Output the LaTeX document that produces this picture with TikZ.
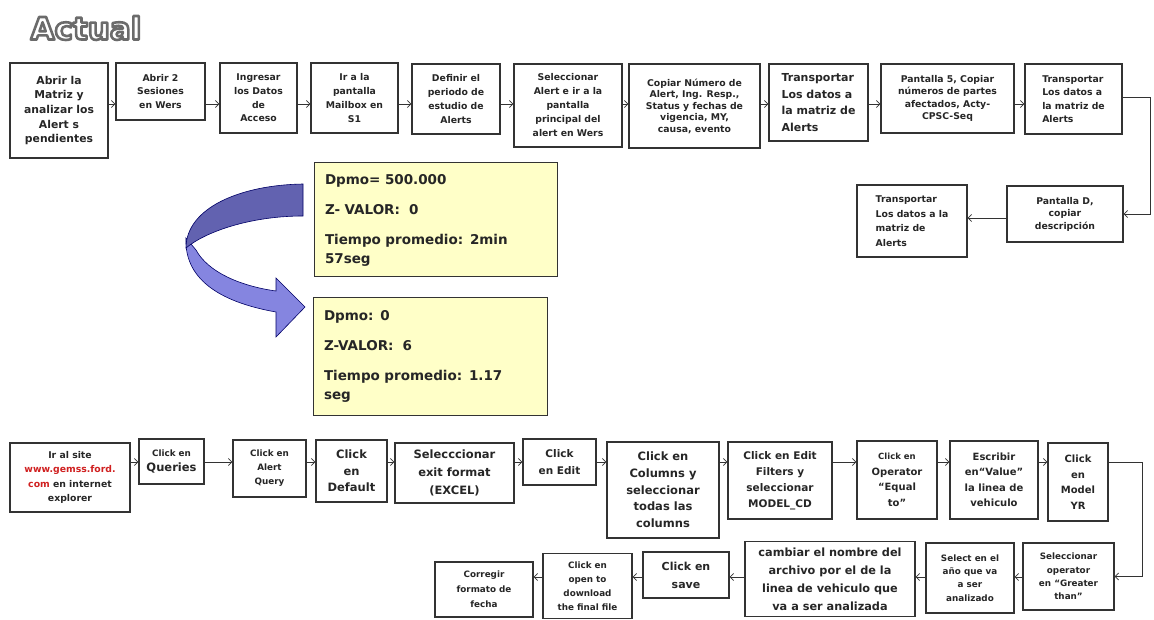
\documentclass[tikz,border=0pt]{standalone}
\usepackage{fontspec}
\setmainfont{DejaVu Sans}
\usetikzlibrary{arrows.meta}
\definecolor{ybg}{HTML}{FFFFC8}
\definecolor{bd}{HTML}{333333}
\definecolor{dk}{HTML}{6262B0}
\definecolor{lt}{HTML}{8585E0}
\definecolor{urlred}{HTML}{D02020}
\begin{document}
\begin{tikzpicture}[x=1pt,y=-1pt,
  box/.style={draw=bd, line width=1.1pt, fill=white, align=center, inner sep=1pt, text=black!85},
  fnt/.style 2 args={font=\bfseries\fontsize{#1}{#2}\selectfont},
  bfnt/.style 2 args={font=\bfseries\fontsize{#1}{#2}\selectfont},
  wh/.style 2 args={minimum width=#1, minimum height=#2},
  arr/.style={draw=bd, line width=0.8pt, -{Straight Barb[length=3.5pt,width=7pt]}},
  ybox/.style={draw=bd, line width=1pt, fill=ybg, align=left, inner xsep=11pt, text=black!85, font=\bfseries\fontsize{13.5}{19}\selectfont},
  ttl/.style={font=\bfseries\fontsize{31}{31}\selectfont}
]
\useasboundingbox (0,0) rectangle (1154,620);

% title (outlined text)
\node[ttl, text=white] (title) at (86,28) {\special{pdf:literal direct 0.42 G 2.6 w 1 j 2 Tr}Actual\special{pdf:literal direct 0 Tr}};

% top row
\node[box,wh={98}{95},bfnt={10.8}{14.6}] (b1) at (59,110.5) {Abrir la\\Matriz y\\analizar los\\Alert s\\pendientes};
\node[box,wh={89}{57},fnt={9.3}{13.8}] (b2) at (160.5,91.5) {Abrir 2\\Sesiones\\en Wers};
\node[box,wh={77}{70},fnt={9.3}{13.7}] (b3) at (258.5,98) {Ingresar\\los Datos\\de\\Acceso};
\node[box,wh={87}{70},fnt={9.3}{13.7}] (b4) at (354.5,98) {Ir a la\\pantalla\\Mailbox en\\S1};
\node[box,wh={88}{70},fnt={9.3}{13.7}] (b5) at (456,99) {Definir el\\periodo de\\estudio de\\Alerts};
\node[box,wh={108}{83},fnt={9.3}{14}] (b6) at (568,105.5) {Seleccionar\\Alert e ir a la\\pantalla\\principal del\\alert en Wers};
\node[box,wh={131}{84},fnt={9.3}{11.5}] (b7) at (694.5,106) {Copiar Número de\\Alert, Ing. Resp.,\\Status y fechas de\\vigencia, MY,\\causa, evento};
\node[box,wh={99}{77},bfnt={11}{16.5},align=left] (b8) at (818.5,102.5) {Transportar\\Los datos a\\la matriz de\\Alerts};
\node[box,wh={133}{69},fnt={9.3}{12.5}] (b9) at (947.5,98.5) {Pantalla 5, Copiar\\números de partes\\afectados, Acty-\\CPSC-Seq};
\node[box,wh={97}{70},fnt={9.3}{13.5},align=left] (b10) at (1073.5,99) {Transportar\\Los datos a\\la matriz de\\Alerts};
\node[box,wh={116}{56},fnt={9.3}{12.5}] (b11) at (1065,214) {Pantalla D,\\copiar\\descripción};
\node[box,wh={110}{72},fnt={9.3}{14.5},align=left] (b12) at (912,221) {Transportar\\Los datos a la\\matriz de\\Alerts};

\coordinate (lt) at (0,104);
\foreach \p/\q in {b1/b2,b2/b3,b3/b4,b4/b5,b5/b6,b6/b7,b7/b8,b8/b9,b9/b10}
  \draw[arr] (\p.east |- lt) -- (\q.west |- lt);
\coordinate (k1) at (1150,97);
\draw[arr] (b10.east |- k1) -- (k1) |- (b11.east);
\coordinate (l2) at (0,218);
\draw[arr] (b11.west |- l2) -- (b12.east |- l2);

% curved arrow
\draw[fill=lt, draw=black!60!blue, line width=0.6pt] (186,238) .. controls (184,282) and (225,303) .. (276,312) -- (276,337) -- (305,307) -- (276,278) -- (276,291) .. controls (240,286) and (208,272) .. (196,250) -- cycle;
\draw[fill=dk, draw=black!60!blue, line width=0.6pt] (303,184) .. controls (240,185) and (186,208) .. (186,248) .. controls (205,232) and (250,216) .. (303,216) -- cycle;

% yellow boxes
\node[ybox, wh={243}{114}, text width=221] (yA) at (435.5,220) {Dpmo= 500.000\\[11pt]Z- VALOR:\ \ 0\\[11pt]Tiempo promedio: 2min\\57seg};
\node[ybox, wh={234}{117}, text width=212] (yB) at (430,356.5) {Dpmo: 0\\[11pt]Z-VALOR:\ \ 6\\[11pt]Tiempo promedio: 1.17\\seg};

% bottom row
\node[box,wh={120}{69},fnt={9.3}{14.5}] (c1) at (70,477.5) {Ir al site\\\textcolor{urlred}{www.gemss.ford.}\\\textcolor{urlred}{com} en internet\\explorer};
\node[box,wh={65}{45},fnt={11.5}{15}] (c2) at (171.5,461.5) {{\fontsize{8.8}{11}\selectfont Click en}\\Queries};
\node[box,wh={73}{57},fnt={8.8}{14}] (c3) at (269.5,468.5) {Click en\\Alert\\Query};
\node[box,wh={71}{62},fnt={11.5}{16.3}] (c4) at (351.5,471) {Click\\en\\Default};
\node[box,wh={119}{60},fnt={11.5}{17.8}] (c5) at (454.5,473) {Selecccionar\\exit format\\(EXCEL)};
\node[box,wh={73}{46},fnt={10.5}{17.7}] (c6) at (559.5,462) {Click\\en Edit};
\node[box,wh={112}{96},fnt={11.5}{16.7}] (c7) at (663,490) {Click en\\Columns y\\seleccionar\\todas las\\columns};
\node[box,wh={104}{77},fnt={10.5}{16}] (c8) at (780,480.5) {Click en Edit\\Filters y\\seleccionar\\MODEL\_CD};
\node[box,wh={80}{78},fnt={10}{15.5}] (c9) at (897,480) {{\fontsize{8.5}{11}\selectfont Click en}\\Operator\\“Equal\\to”};
\node[box,wh={88}{78},fnt={10}{15.5}] (c10) at (994,480) {Escribir\\en“Value”\\la linea de\\vehiculo};
\node[box,wh={60}{78},fnt={10}{15.5}] (c11) at (1078,482) {Click\\en\\Model\\YR};

% second bottom row
\node[box,wh={91}{67},fnt={8.8}{13.3}] (d1) at (1068.5,576.5) {Seleccionar\\operator\\en “Greater\\than”};
\node[box,wh={88}{70},fnt={8.8}{13.3}] (d2) at (970,578) {Select en el\\año que va\\a ser\\analizado};
\node[box,wh={170}{75},fnt={11.3}{18}] (d3) at (830,579) {cambiar el nombre del\\archivo por el de la\\linea de vehiculo que\\va a ser analizada};
\node[box,wh={86}{46},fnt={11}{18}] (d4) at (686,575) {Click en\\save};
\node[box,wh={89}{65},fnt={8.8}{13.9}] (d5) at (587.5,586) {Click en\\open to\\download\\the final file};
\node[box,wh={98}{55},fnt={8.8}{15}] (d6) at (484,589.5) {Corregir\\formato de\\fecha};

\coordinate (lb) at (0,462);
\foreach \p/\q in {c1/c2,c2/c3,c3/c4,c4/c5,c5/c6,c6/c7,c7/c8,c8/c9,c9/c10,c10/c11}
  \draw[arr] (\p.east |- lb) -- (\q.west |- lb);
\coordinate (k2) at (1142,462);
\draw[arr] (c11.east |- k2) -- (k2) |- (d1.east);

\coordinate (l3) at (0,577);
\foreach \p/\q in {d1/d2,d2/d3,d3/d4,d4/d5,d5/d6}
  \draw[arr] (\p.west |- l3) -- (\q.east |- l3);
\end{tikzpicture}
\end{document}
